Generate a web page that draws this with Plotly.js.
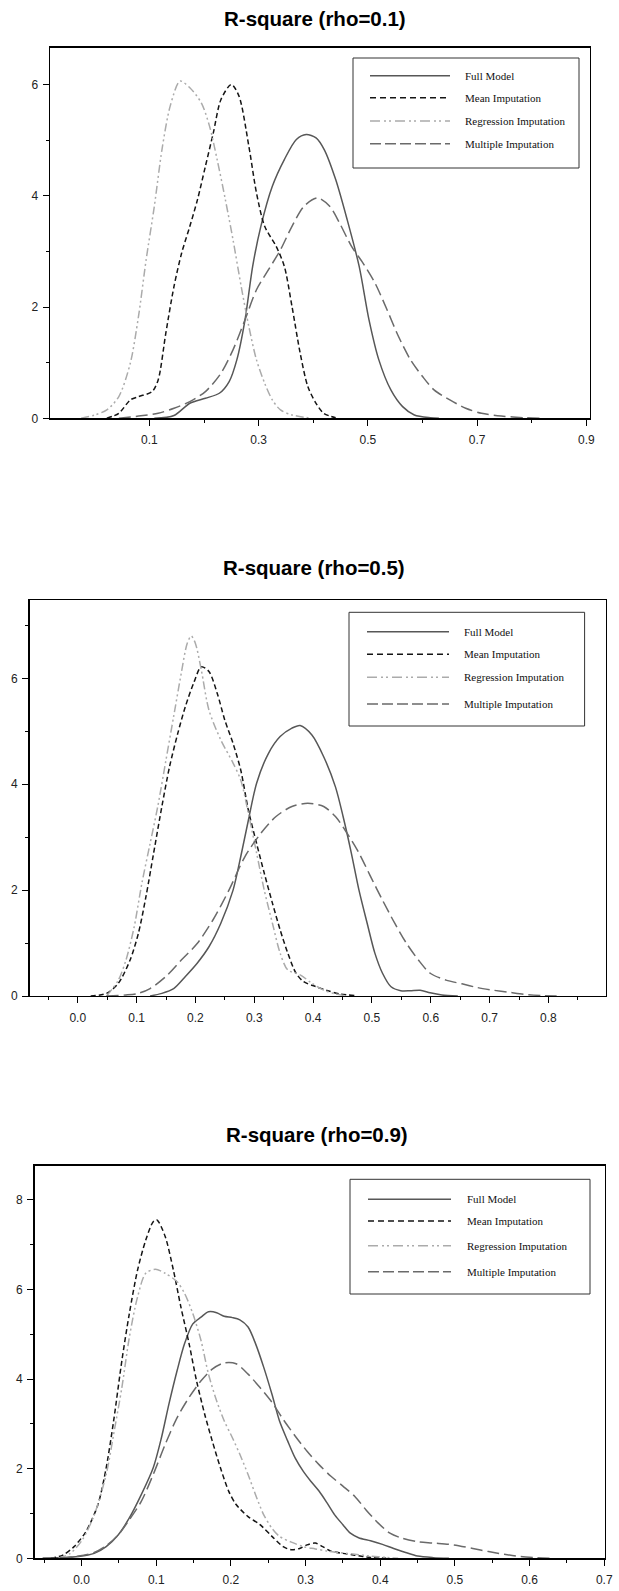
<!DOCTYPE html>
<html>
<head>
<meta charset="utf-8">
<script src="https://cdn.plot.ly/plotly-3.0.1.min.js"></script>
<style>
html,body{margin:0;padding:0;background:#ffffff;}
#chart{width:619px;height:1591px;}
</style>
</head>
<body>
<div id="chart"></div>
<script>
// ---------- DATA ----------
const seriesNames = ['Full Model', 'Mean Imputation', 'Regression Imputation', 'Multiple Imputation'];
const panelTitles = ['R-square (rho=0.1)', 'R-square (rho=0.5)', 'R-square (rho=0.9)'];

// Panel 1 (rho = 0.1)
const full_x1 = [0.109,0.145,0.174,0.2025,0.228,0.246,0.26,0.275,0.289,0.304,0.325,0.347,0.369,0.387,0.405,0.42,0.441,0.462,0.484,0.502,0.52,0.542,0.5635,0.585,0.614,0.63];
const full_y1 = [0,0.05,0.27,0.36,0.45,0.66,1.05,1.77,2.73,3.45,4.17,4.65,5.01,5.1,5.04,4.83,4.29,3.57,2.73,1.77,1.05,0.51,0.21,0.06,0.01,0];
const mean_x1 = [0.022,0.044,0.065,0.08,0.105,0.116,0.13,0.145,0.159,0.174,0.188,0.2025,0.217,0.231,0.25,0.264,0.282,0.296,0.311,0.332,0.347,0.361,0.376,0.39,0.405,0.419,0.441];
const mean_y1 = [0,0.09,0.33,0.39,0.48,0.69,1.53,2.37,2.97,3.45,3.93,4.53,5.13,5.73,6.0,5.79,4.89,4.05,3.45,3.09,2.73,2.01,1.17,0.57,0.27,0.09,0.01];
const reg_x1 = [-0.025,0.0,0.022,0.044,0.065,0.08,0.094,0.109,0.123,0.138,0.156,0.174,0.195,0.21,0.224,0.239,0.253,0.268,0.282,0.296,0.311,0.325,0.34,0.361,0.397];
const reg_y1 = [0,0.06,0.15,0.39,0.99,1.83,2.85,3.81,4.83,5.61,6.06,5.94,5.67,5.25,4.65,3.93,3.21,2.37,1.65,1.05,0.63,0.33,0.15,0.06,0];
const multi_x1 = [0.044,0.08,0.116,0.145,0.174,0.2025,0.231,0.253,0.275,0.296,0.318,0.34,0.361,0.383,0.408,0.43,0.448,0.47,0.491,0.513,0.535,0.556,0.578,0.6,0.621,0.65,0.679,0.708,0.744,0.787,0.816];
const multi_y1 = [0,0.04,0.09,0.18,0.3,0.48,0.81,1.23,1.77,2.31,2.67,3.03,3.45,3.81,3.96,3.81,3.51,3.09,2.79,2.43,1.95,1.47,1.05,0.75,0.51,0.33,0.18,0.09,0.04,0.01,0];

// Panel 2 (rho = 0.5)
const full_x2 = [0.123,0.143,0.163,0.183,0.203,0.223,0.243,0.264,0.277,0.29,0.304,0.324,0.344,0.364,0.378,0.398,0.418,0.438,0.451,0.465,0.478,0.492,0.505,0.518,0.532,0.549,0.565,0.582,0.599,0.619,0.646];
const full_y2 = [0,0.05,0.14,0.37,0.62,0.93,1.37,2.0,2.63,3.32,4.02,4.58,4.9,5.06,5.11,4.93,4.52,3.95,3.39,2.7,2.0,1.37,0.81,0.43,0.18,0.1,0.1,0.11,0.06,0.02,0];
const mean_x2 = [0.022,0.049,0.069,0.089,0.103,0.116,0.129,0.143,0.156,0.17,0.183,0.197,0.21,0.223,0.237,0.25,0.264,0.277,0.29,0.304,0.317,0.331,0.344,0.357,0.371,0.384,0.404,0.425,0.445,0.471];
const mean_y2 = [0,0.05,0.24,0.68,1.18,1.88,2.7,3.58,4.33,4.96,5.47,5.91,6.22,6.13,5.72,5.21,4.77,4.27,3.51,2.88,2.32,1.75,1.25,0.81,0.43,0.27,0.18,0.1,0.04,0.01];
const reg_x2 = [0.049,0.069,0.082,0.096,0.109,0.123,0.136,0.15,0.163,0.176,0.186,0.193,0.2,0.21,0.223,0.243,0.264,0.277,0.29,0.304,0.317,0.331,0.344,0.357,0.378,0.398,0.418,0.438,0.458];
const reg_y2 = [0,0.3,0.68,1.31,2.13,2.88,3.58,4.46,5.28,6.1,6.66,6.8,6.66,6.16,5.4,4.84,4.4,4.08,3.45,2.7,2.0,1.37,0.81,0.49,0.4,0.24,0.11,0.04,0];
const multi_x2 = [0.049,0.082,0.103,0.123,0.15,0.176,0.203,0.23,0.257,0.284,0.311,0.337,0.364,0.391,0.418,0.438,0.458,0.478,0.498,0.518,0.539,0.559,0.579,0.599,0.626,0.653,0.679,0.706,0.733,0.76,0.787,0.814];
const multi_y2 = [0,0.02,0.05,0.14,0.37,0.68,0.99,1.44,2.0,2.63,3.07,3.39,3.58,3.64,3.58,3.39,3.07,2.7,2.25,1.81,1.37,0.99,0.68,0.43,0.3,0.23,0.16,0.11,0.07,0.03,0.01,0];

// Panel 3 (rho = 0.9)
const full_x3 = [-0.052,-0.031,-0.004,0.017,0.033,0.049,0.064,0.08,0.096,0.107,0.117,0.128,0.138,0.149,0.16,0.17,0.181,0.191,0.202,0.212,0.223,0.233,0.244,0.255,0.265,0.276,0.286,0.297,0.307,0.318,0.329,0.339,0.35,0.36,0.371,0.387,0.403,0.418,0.434,0.45,0.471,0.492];
const full_y3 = [0,0.01,0.04,0.11,0.26,0.52,0.9,1.42,2.02,2.69,3.44,4.19,4.79,5.23,5.38,5.5,5.48,5.4,5.37,5.32,5.16,4.79,4.26,3.66,3.07,2.62,2.24,1.94,1.72,1.5,1.23,0.97,0.75,0.56,0.46,0.39,0.31,0.22,0.13,0.05,0.015,0];
const mean_x3 = [-0.041,-0.025,-0.01,0.006,0.022,0.033,0.043,0.054,0.064,0.075,0.086,0.096,0.101,0.112,0.123,0.133,0.144,0.154,0.165,0.175,0.186,0.197,0.207,0.223,0.239,0.255,0.27,0.281,0.292,0.302,0.313,0.323,0.334,0.35,0.366,0.387,0.408];
const mean_y3 = [0,0.07,0.26,0.6,1.2,2.02,3.07,4.41,5.46,6.43,7.1,7.51,7.55,7.18,6.43,5.61,4.79,3.96,3.21,2.62,2.02,1.5,1.2,0.93,0.75,0.49,0.26,0.19,0.22,0.3,0.34,0.26,0.16,0.11,0.07,0.02,0];
const reg_x3 = [-0.031,-0.015,0.001,0.017,0.033,0.043,0.054,0.064,0.075,0.086,0.099,0.112,0.128,0.138,0.149,0.16,0.17,0.181,0.191,0.202,0.212,0.223,0.233,0.244,0.255,0.265,0.281,0.297,0.313,0.329,0.344,0.366,0.387,0.408,0.424];
const reg_y3 = [0,0.11,0.41,0.97,1.87,2.77,3.81,4.93,5.83,6.36,6.45,6.36,6.17,5.91,5.46,4.86,4.11,3.51,3.07,2.69,2.32,1.87,1.42,0.97,0.67,0.49,0.36,0.26,0.21,0.16,0.13,0.09,0.05,0.02,0];
const multi_x3 = [-0.052,-0.025,-0.004,0.017,0.033,0.049,0.064,0.08,0.096,0.112,0.128,0.144,0.16,0.175,0.191,0.207,0.223,0.239,0.255,0.27,0.286,0.302,0.318,0.334,0.35,0.366,0.381,0.397,0.413,0.429,0.45,0.471,0.498,0.524,0.545,0.566,0.587,0.609,0.63];
const multi_y3 = [0,0.015,0.05,0.13,0.28,0.52,0.86,1.27,1.87,2.54,3.14,3.59,3.96,4.22,4.36,4.34,4.11,3.81,3.48,3.1,2.73,2.39,2.09,1.83,1.61,1.38,1.08,0.79,0.56,0.45,0.37,0.34,0.3,0.22,0.15,0.09,0.04,0.015,0];

// Tick values
const xTicks1 = [0.1, 0.3, 0.5, 0.7, 0.9];
const xMinor1 = [0.2, 0.4, 0.6, 0.8];
const xTicks2 = [0.0, 0.1, 0.2, 0.3, 0.4, 0.5, 0.6, 0.7, 0.8];
const xMinor2 = [-0.05, 0.05, 0.15, 0.25, 0.35, 0.45, 0.55, 0.65, 0.75, 0.85];
const xTicks3 = [0.0, 0.1, 0.2, 0.3, 0.4, 0.5, 0.6, 0.7];
const xMinor3 = [-0.05, 0.05, 0.15, 0.25, 0.35, 0.45, 0.55, 0.65];
const yTicks1 = [0, 2, 4, 6];
const yMinor1 = [1, 3, 5];
const yTicks2 = [0, 2, 4, 6];
const yMinor2 = [1, 3, 5, 7];
const yTicks3 = [0, 2, 4, 6, 8];
const yMinor3 = [1, 3, 5, 7];

// ---------- LAYOUT / STYLE ----------
const W = 619, H = 1591;
const px = v => v / W;
const py = v => 1 - v / H;

const styles = [
  {color: '#575757', dash: 'solid', width: 1.5},
  {color: '#151515', dash: '5px,3px', width: 1.5},
  {color: '#ababab', dash: '8px,3px,2px,3px,2px,3px', width: 1.5},
  {color: '#6a6a6a', dash: '12px,5px', width: 1.5}
];
const legendDash = ['solid', '6px,4px', '10px,4px,2px,3px,2px,4px', '11px,4px'];

const panels = [
  {
    box: {l: 50, r: 589.7, t: 47.7, b: 418.3},
    xr: [-0.082, 0.906], yr: [0, 6.66],
    xt: xTicks1, xm: xMinor1, yt: yTicks1, ym: yMinor1,
    title: {x: 315, y: 18},
    leg: {l: 353, r: 579, t: 58, b: 168, rows: [75.7, 97.7, 121, 143.7], lx0: 370, lx1: 450, tx: 463},
    series: [[full_x1, full_y1], [mean_x1, mean_y1], [reg_x1, reg_y1], [multi_x1, multi_y1]]
  },
  {
    box: {l: 29.5, r: 605.5, t: 600, b: 996},
    xr: [-0.082, 0.897], yr: [0, 7.48],
    xt: xTicks2, xm: xMinor2, yt: yTicks2, ym: yMinor2,
    title: {x: 314, y: 567},
    leg: {l: 349, r: 584.6, t: 612.3, b: 726, rows: [631.7, 654.3, 677.3, 704], lx0: 367, lx1: 449, tx: 462},
    series: [[full_x2, full_y2], [mean_x2, mean_y2], [reg_x2, reg_y2], [multi_x2, multi_y2]]
  },
  {
    box: {l: 34.5, r: 605, t: 1165.7, b: 1558.3},
    xr: [-0.063, 0.701], yr: [0, 8.76],
    xt: xTicks3, xm: xMinor3, yt: yTicks3, ym: yMinor3,
    title: {x: 317, y: 1134},
    leg: {l: 350, r: 590, t: 1179.3, b: 1294, rows: [1199.3, 1221, 1245.7, 1271.7], lx0: 368, lx1: 451, tx: 465},
    series: [[full_x3, full_y3], [mean_x3, mean_y3], [reg_x3, reg_y3], [multi_x3, multi_y3]]
  }
];

const tickFont = {family: 'Liberation Sans, Arial, sans-serif', size: 12, color: '#222'};
const traces = [];
const layout = {
  width: W, height: H,
  margin: {l: 0, r: 0, t: 0, b: 0, pad: 0},
  paper_bgcolor: '#ffffff', plot_bgcolor: '#ffffff',
  showlegend: false,
  shapes: [], annotations: []
};

panels.forEach((p, i) => {
  const n = i === 0 ? '' : String(i + 1);
  const xa = 'x' + n, ya = 'y' + n;
  p.series.forEach((s, k) => {
    traces.push({
      type: 'scatter', mode: 'lines', name: seriesNames[k],
      x: s[0], y: s[1], xaxis: xa, yaxis: ya,
      line: {color: styles[k].color, dash: styles[k].dash, width: styles[k].width, shape: 'spline', smoothing: 0.8},
      hoverinfo: 'skip'
    });
  });
  layout['xaxis' + n] = {
    domain: [px(p.box.l), px(p.box.r)], anchor: ya, range: p.xr,
    showline: true, mirror: true, linecolor: '#000', linewidth: 1.3,
    showgrid: false, zeroline: false,
    ticks: 'outside', ticklen: 6, tickwidth: 1, tickcolor: '#000',
    tickmode: 'array', tickvals: p.xt, ticktext: p.xt.map(v => v.toFixed(1)),
    ticklabelstandoff: 4,
    minor: {tickmode: 'array', tickvals: p.xm, ticks: 'outside', ticklen: 3, tickwidth: 1, tickcolor: '#000', showgrid: false},
    tickfont: tickFont, fixedrange: true
  };
  layout['yaxis' + n] = {
    domain: [py(p.box.b), py(p.box.t)], anchor: xa, range: p.yr,
    showline: true, mirror: true, linecolor: '#000', linewidth: 1.3,
    showgrid: false, zeroline: false,
    ticks: 'outside', ticklen: 6, tickwidth: 1, tickcolor: '#000',
    tickmode: 'array', tickvals: p.yt, ticktext: p.yt.map(v => String(v)),
    ticklabelstandoff: 2,
    minor: {tickmode: 'array', tickvals: p.ym, ticks: 'outside', ticklen: 3, tickwidth: 1, tickcolor: '#000', showgrid: false},
    tickfont: tickFont, fixedrange: true
  };
  // title
  layout.annotations.push({
    xref: 'paper', yref: 'paper', x: px(p.title.x), y: py(p.title.y),
    xanchor: 'center', yanchor: 'middle', showarrow: false,
    text: '<b>' + panelTitles[i] + '</b>',
    font: {family: 'Liberation Sans, Arial, sans-serif', size: 20.5, color: '#000'}
  });
  // legend box
  const L = p.leg;
  layout.shapes.push({
    type: 'rect', xref: 'paper', yref: 'paper',
    x0: px(L.l), x1: px(L.r), y0: py(L.b), y1: py(L.t),
    line: {color: '#333', width: 1}, fillcolor: '#ffffff', layer: 'above'
  });
  L.rows.forEach((ry, k) => {
    layout.shapes.push({
      type: 'line', xref: 'paper', yref: 'paper',
      x0: px(L.lx0), x1: px(L.lx1), y0: py(ry), y1: py(ry),
      line: {color: styles[k].color, dash: legendDash[k], width: 1.5}, layer: 'above'
    });
    layout.annotations.push({
      xref: 'paper', yref: 'paper', x: px(L.tx), y: py(ry),
      xanchor: 'left', yanchor: 'middle', showarrow: false,
      text: seriesNames[k],
      font: {family: 'Liberation Serif, Times New Roman, serif', size: 11, color: '#111'}
    });
  });
});

Plotly.newPlot('chart', traces, layout, {displayModeBar: false, staticPlot: true});
</script>
</body>
</html>
